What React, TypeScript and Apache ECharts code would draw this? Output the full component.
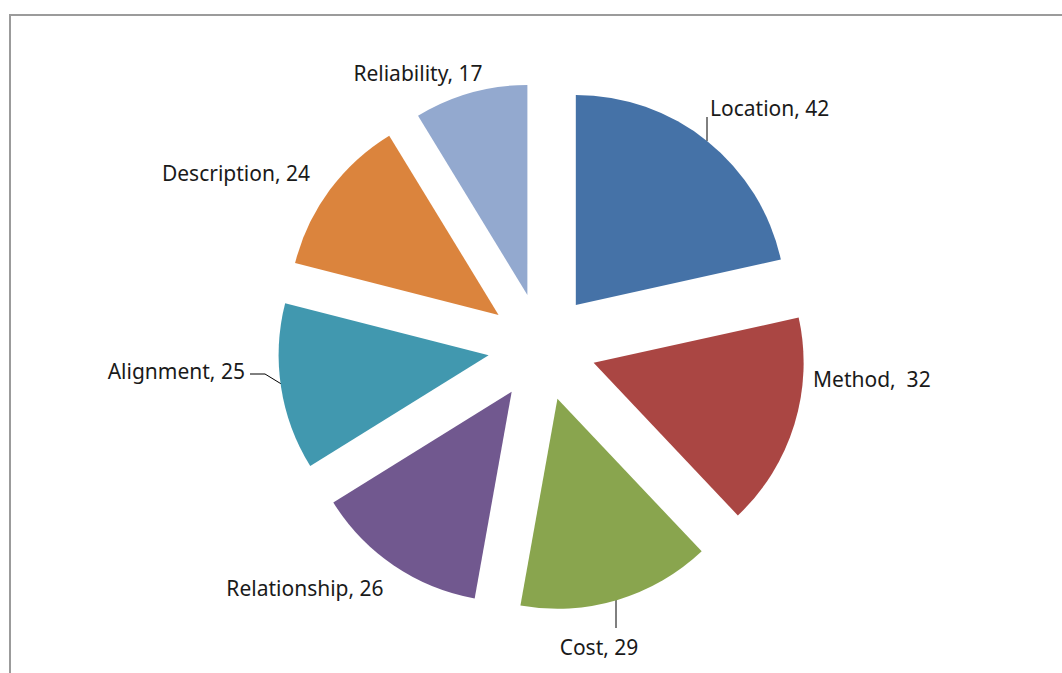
import React, { useEffect, useRef } from "react";
import * as echarts from "echarts";

const categories = ["Location", "Method", "Cost", "Relationship", "Alignment", "Description", "Reliability"];
const values = [42, 32, 29, 26, 25, 24, 17];
const labelTexts = ["Location, 42", "Method,  32", "Cost, 29", "Relationship, 26", "Alignment, 25", "Description, 24", "Reliability, 17"];
const colors = ["#4572A7", "#AA4643", "#89A54E", "#71588F", "#4198AF", "#DB843D", "#93A9CF"];

// layout only
const CENTER = [542, 347];
const RADIUS = 210;
const EXPLODE = 54;
const labelPlacement: { x: number; y: number; align: string; line?: number[][] }[] = [
  { x: 710, y: 108, align: "left", line: [[707, 141], [707, 129], [707, 117]] },
  { x: 813, y: 379, align: "left" },
  { x: 599, y: 647, align: "center", line: [[616, 597], [616, 612], [616, 628]] },
  { x: 305, y: 588, align: "center" },
  { x: 245, y: 371, align: "right", line: [[283, 385], [265, 374], [250, 374]] },
  { x: 236, y: 173, align: "center" },
  { x: 418, y: 73, align: "center" },
];

export default function App() {
  const ref = useRef<HTMLDivElement>(null);
  useEffect(() => {
    if (!ref.current) return;
    const chart = echarts.init(ref.current, null, { renderer: "svg" });
    const total = values.reduce((a, b) => a + b, 0);
    let acc = 0;
    const series = categories.map((name, i) => {
      const before = acc;
      const after = total - acc - values[i];
      const mid = ((acc + values[i] / 2) / total) * Math.PI * 2;
      acc += values[i];
      const cx = CENTER[0] + EXPLODE * Math.sin(mid);
      const cy = CENTER[1] - EXPLODE * Math.cos(mid);
      const blank = {
        itemStyle: { color: "rgba(0,0,0,0)" },
        label: { show: false },
        labelLine: { show: false },
        silent: true,
      };
      const p = labelPlacement[i];
      return {
        type: "pie",
        name,
        center: [cx, cy],
        radius: [0, RADIUS],
        startAngle: 90,
        clockwise: true,
        minAngle: 0,
        avoidLabelOverlap: false,
        emphasis: { disabled: true },
        label: {
          show: true,
          position: "outside",
          color: "#1a1a1a",
          fontFamily: "Noto Sans",
          fontSize: 21,
        },
        labelLine: { show: true, lineStyle: { color: "#000000", width: 1 } },
        labelLayout: () => {
          const out: any = { x: p.x, y: p.y, align: p.align, verticalAlign: "middle" };
          if (p.line) out.labelLinePoints = p.line;
          return out;
        },
        data: [
          { name: "_b", value: before, ...blank },
          {
            name,
            value: values[i],
            itemStyle: { color: colors[i] },
            label: { show: true, formatter: labelTexts[i] },
            labelLine: { show: !!p.line },
          },
          { name: "_a", value: after, ...blank },
        ],
      };
    });
    chart.setOption({
      animation: false,
      backgroundColor: "#ffffff",
      graphic: [
        {
          type: "rect",
          shape: { x: 10, y: 15, width: 1100, height: 700 },
          style: { fill: "none", stroke: "#9b9b9b", lineWidth: 2 },
          silent: true,
        },
      ],
      series,
    });
    return () => chart.dispose();
  }, []);
  return <div ref={ref} style={{ position: "absolute", left: 0, top: 0, width: 1062, height: 673 }} />;
}
